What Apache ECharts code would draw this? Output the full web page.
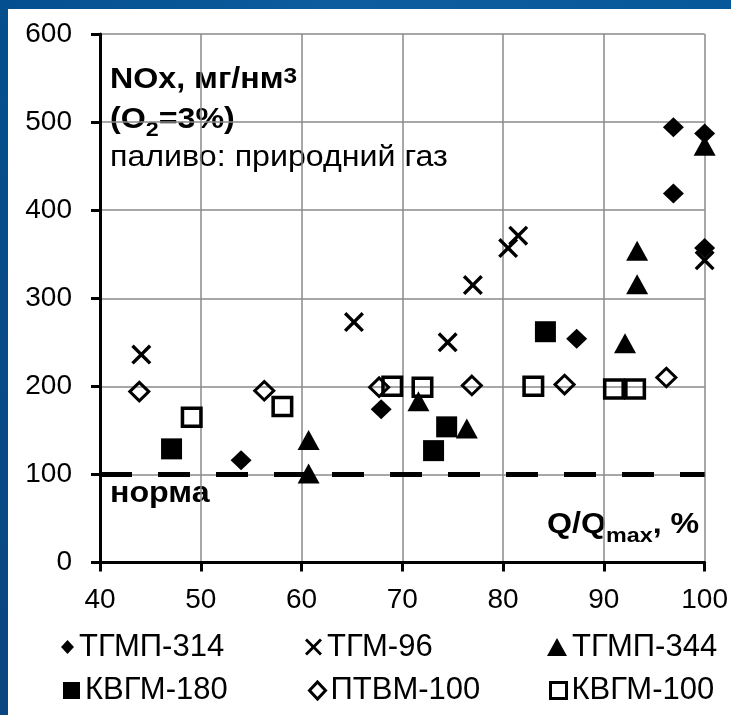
<!DOCTYPE html>
<html>
<head>
<meta charset="utf-8">
<script src="https://cdn.jsdelivr.net/npm/echarts@6/dist/echarts.min.js"></script>
<style>
  html, body { margin: 0; padding: 0; background: #fff; }
  #chart { width: 731px; height: 715px; }
</style>
</head>
<body>
<div id="chart"></div>
<script>
// NOx emissions of boilers vs. load (natural gas firing)
const seriesNames = ['ТГМП-314', 'ТГМ-96', 'ТГМП-344', 'КВГМ-180', 'ПТВМ-100', 'КВГМ-100'];

const tgmp314X = [54.0, 67.9, 87.3, 96.9, 96.9, 100, 100];
const tgmp314Y = [116, 174, 254, 494, 419, 487, 357];

const tgm96X = [44.1, 65.2, 74.5, 77.0, 80.5, 81.5, 100];
const tgm96Y = [236, 273, 250, 315, 357, 371, 343];

const tgmp344X = [60.7, 60.7, 71.6, 76.4, 92.1, 93.3, 93.3, 100];
const tgmp344Y = [139, 101, 183, 152, 249, 316, 354, 473];

const kvgm180X = [47.1, 73.1, 74.4, 84.2];
const kvgm180Y = [129, 127, 154, 262];

const ptvm100X = [43.9, 56.3, 67.7, 76.9, 86.1, 96.2];
const ptvm100Y = [194, 195, 199, 201, 202, 210];

const kvgm100X = [49.1, 58.1, 69.0, 72.0, 83.0, 91.0, 93.1];
const kvgm100Y = [165, 177, 200, 199, 200, 197, 197];

// emission limit ("норма")
const normX = [40, 100];
const normY = [100, 100];

const xTicks = { min: 40, max: 100, step: 10 };
const yTicks = { min: 0, max: 600, step: 100 };

const FONT = "'Liberation Sans', Arial, sans-serif";
const zip = (xs, ys) => xs.map((x, i) => [x, ys[i]]);

const crossPath = 'path://M0,12L12,0L50,38L88,0L100,12L62,50L100,88L88,100L50,62L12,100L0,88L38,50Z';

const filled = { color: '#000', borderWidth: 0, opacity: 1 };
const hollow = (w) => ({ color: 'rgba(0,0,0,0)', borderColor: '#000', borderWidth: w, opacity: 1 });

const seriesDefs = [
  { name: seriesNames[0], xs: tgmp314X, ys: tgmp314Y, symbol: 'diamond', size: [21, 20], style: filled,
    legend: { left: 61, row: 0, w: 13, h: 14, style: filled } },
  { name: seriesNames[1], xs: tgm96X, ys: tgm96Y, symbol: crossPath, size: [20, 20], style: filled,
    legend: { left: 305, row: 0, w: 17, h: 17, style: filled } },
  { name: seriesNames[2], xs: tgmp344X, ys: tgmp344Y, symbol: 'triangle', size: [22, 20], style: filled,
    legend: { left: 547, row: 0, w: 20, h: 18, style: filled } },
  { name: seriesNames[3], xs: kvgm180X, ys: kvgm180Y, symbol: 'rect', size: [21, 21], style: filled,
    legend: { left: 63, row: 1, w: 17, h: 17, style: filled } },
  { name: seriesNames[4], xs: ptvm100X, ys: ptvm100Y, symbol: 'diamond', size: [19, 18.5], style: hollow(3),
    legend: { left: 308, row: 1, w: 16, h: 17, style: hollow(3) } },
  { name: seriesNames[5], xs: kvgm100X, ys: kvgm100Y, symbol: 'rect', size: [18.5, 18], style: hollow(3.5),
    legend: { left: 549, row: 1, w: 16, h: 16, style: hollow(3) } }
];

const LEGEND_FONT = 31;
const rowCenter = [645, 688.5];

const legends = seriesDefs.map(d => ({
  show: true,
  left: d.legend.left,
  top: rowCenter[d.legend.row] - LEGEND_FONT / 2 + 2,
  padding: 0,
  itemWidth: d.legend.w,
  itemHeight: d.legend.h,
  selectedMode: false,
  textStyle: { fontSize: LEGEND_FONT, color: '#000', fontFamily: FONT },
  data: [{ name: d.name, icon: d.symbol, itemStyle: d.legend.style }]
}));

// measure text widths for composite labels with sub/superscripts
const STRETCH = 1.11;
const mctx = document.createElement('canvas').getContext('2d');
function textWidth(t, size, bold) {
  mctx.font = (bold ? 'bold ' : '') + size + 'px ' + FONT;
  return mctx.measureText(t).width * STRETCH;
}
function composite(x, baseline, parts) {
  const out = [];
  let cx = x;
  parts.forEach(p => {
    const b = baseline + (p.dy || 0);
    out.push({
      type: 'text',
      x: cx,
      y: b - 0.3465 * p.size,
      scaleX: STRETCH,
      silent: true,
      style: {
        text: p.t,
        fontSize: p.size,
        fontWeight: p.bold ? 'bold' : 'normal',
        fontFamily: FONT,
        fill: '#000',
        align: 'left',
        verticalAlign: 'middle'
      }
    });
    cx += textWidth(p.t, p.size, p.bold);
  });
  return out;
}

const texts = [].concat(
  composite(110, 90, [
    { t: 'NOx, мг/нм', size: 29, bold: true },
    { t: '3', size: 22, bold: true, dy: -5 }
  ]),
  composite(110, 130, [
    { t: '(O', size: 29, bold: true },
    { t: '2', size: 21, bold: true, dy: 7 },
    { t: '=3%)', size: 29, bold: true }
  ]),
  composite(110, 168, [
    { t: 'паливо: природний газ', size: 29, bold: false }
  ]),
  composite(110, 504, [
    { t: 'норма', size: 29, bold: true }
  ]),
  composite(547, 535, [
    { t: 'Q/Q', size: 29, bold: true },
    { t: 'max', size: 21, bold: true, dy: 8 },
    { t: ', %', size: 29, bold: true }
  ])
);

// blue slide frame along the top and left edges
const frame = [
  { type: 'rect', shape: { x: 0, y: 0, width: 731, height: 9 }, silent: true, z: 100,
    style: { fill: { type: 'linear', x: 0, y: 0, x2: 1, y2: 0,
      colorStops: [{ offset: 0, color: '#044f8f' }, { offset: 0.5, color: '#0e5d9e' }, { offset: 1, color: '#06589a' }] } } },
  { type: 'rect', shape: { x: 0, y: 0, width: 8, height: 715 }, silent: true, z: 100,
    style: { fill: { type: 'linear', x: 0, y: 0, x2: 0, y2: 1,
      colorStops: [{ offset: 0, color: '#054f8f' }, { offset: 1, color: '#0a4680' }] } } }
];

const chart = echarts.init(document.getElementById('chart'), null, { renderer: 'canvas' });

const axisCommon = {
  type: 'value',
  axisLine: { show: true, onZero: false, lineStyle: { color: '#000', width: 3 } },
  axisTick: { show: true, inside: false, length: 9, lineStyle: { color: '#000', width: 3 } },
  splitLine: { show: true, lineStyle: { color: '#8a8a8a', width: 1.5 } },
  axisLabel: { color: '#000', fontSize: 28, fontFamily: FONT }
};

chart.setOption({
  animation: false,
  backgroundColor: '#fff',
  grid: { left: 100, right: 24.3, top: 34, bottom: 152.5, containLabel: false },
  xAxis: Object.assign({}, axisCommon, {
    min: xTicks.min, max: xTicks.max, interval: xTicks.step,
    axisLabel: Object.assign({}, axisCommon.axisLabel, { margin: 24 })
  }),
  yAxis: Object.assign({}, axisCommon, {
    min: yTicks.min, max: yTicks.max, interval: yTicks.step,
    axisLabel: Object.assign({}, axisCommon.axisLabel, { margin: 28 })
  }),
  legend: legends,
  graphic: frame.concat(texts),
  series: [
    {
      name: 'норма',
      type: 'line',
      data: zip(normX, normY),
      showSymbol: false,
      silent: true,
      z: 1,
      lineStyle: { color: '#000', width: 5, type: [32, 26], cap: 'butt' }
    }
  ].concat(seriesDefs.map(d => ({
    name: d.name,
    type: 'scatter',
    data: zip(d.xs, d.ys),
    symbol: d.symbol,
    symbolSize: d.size,
    itemStyle: d.style,
    emphasis: { disabled: true },
    z: 3
  })))
});
</script>
</body>
</html>
